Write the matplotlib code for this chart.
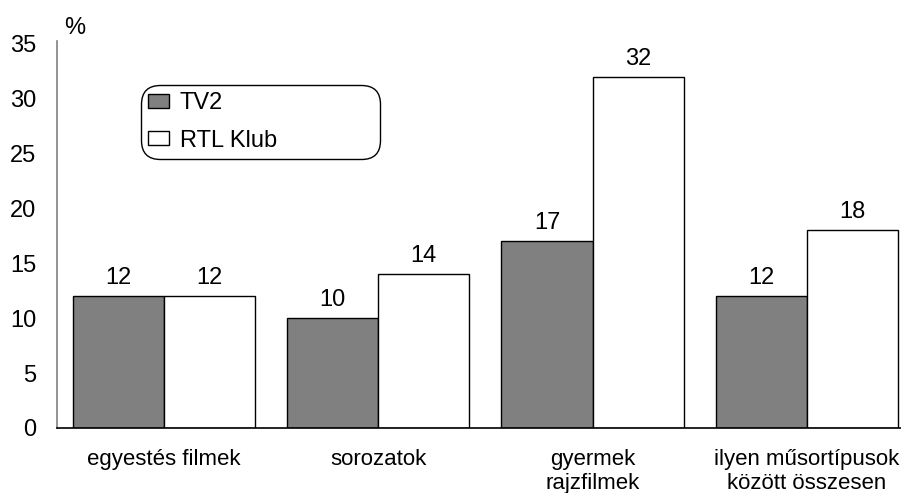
import matplotlib
matplotlib.use("Agg")
import matplotlib.pyplot as plt
import numpy as np

categories = ["egyestés filmek", "sorozatok", "gyermek\nrajzfilmek", "ilyen műsortípusok\nközött összesen"]
tv2 = [12, 10, 17, 12]
rtl = [12, 14, 32, 18]
series_names = ["TV2", "RTL Klub"]
yticks = [0, 5, 10, 15, 20, 25, 30, 35]

plt.rcParams['font.family'] = ['Liberation Sans', 'DejaVu Sans']

fig = plt.figure(figsize=(9.01, 4.93), dpi=100)
ax = fig.add_axes([57/901, 65/493, 1 - 57/901, 387/493])

x = np.arange(len(categories))
w = 0.425
b1 = ax.bar(x - w/2, tv2, w, color="#808080", edgecolor="black", linewidth=1, label=series_names[0])
b2 = ax.bar(x + w/2, rtl, w, color="white", edgecolor="black", linewidth=1, label=series_names[1])

for bars, vals in ((b1, tv2), (b2, rtl)):
    for r, v in zip(bars, vals):
        ax.annotate(f"{v}", (r.get_x() + r.get_width()/2, v), xytext=(0, 5),
                    textcoords="offset points", ha="center", va="bottom", fontsize=17)

ax.set_xlim(-0.5, 3.44)
ax.set_ylim(0, 35.25)
ax.set_yticks(yticks)
ax.set_xticks(x)
ax.set_xticklabels(categories, fontsize=16, linespacing=1.2)
ax.tick_params(axis='y', labelsize=17, length=0, pad=15)
ax.tick_params(axis='x', length=0, pad=15)
for s in ("top", "right"):
    ax.spines[s].set_visible(False)
ax.spines["left"].set_color("#808080")
ax.spines["left"].set_linewidth(1.2)
ax.spines["bottom"].set_color("black")
ax.spines["bottom"].set_linewidth(1.2)

ax.text(0.008, 1.005, "%", transform=ax.transAxes, fontsize=17, ha="left", va="bottom")

leg = ax.legend(loc="upper left", bbox_to_anchor=(0.0995, 0.700, 0.283, 0.186), mode="expand",
                fontsize=17, frameon=True, fancybox=True, handlelength=0.9, handleheight=0.5,
                borderpad=0.3, labelspacing=0.65, handletextpad=0.45, borderaxespad=0)
leg.get_frame().set_edgecolor("black")
leg.get_frame().set_linewidth(1)
leg.get_frame().set_boxstyle("round", pad=0, rounding_size=0.8)
leg.get_frame().set_alpha(1)

fig.savefig("out.png", dpi=100)
